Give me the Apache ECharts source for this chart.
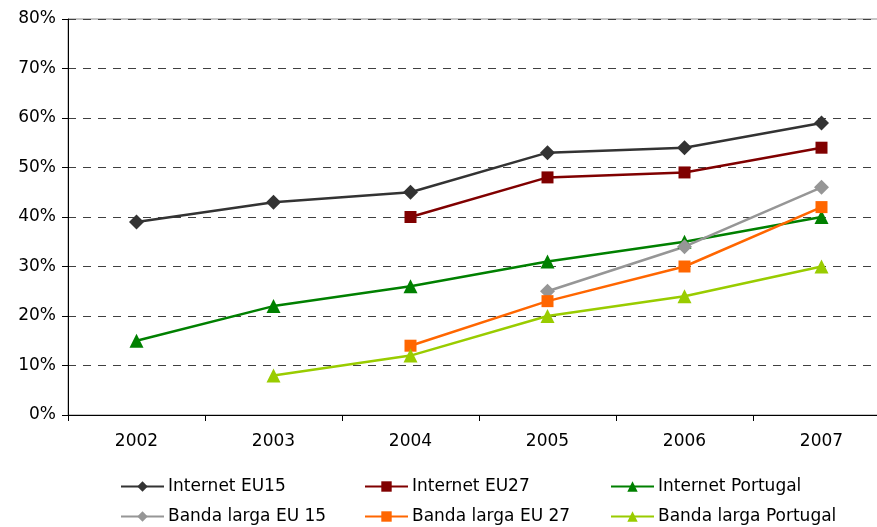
<!DOCTYPE html>
<html lang="pt">
<head>
    <meta charset="UTF-8">
    <title>Internet e banda larga</title>
</head>
<body style="margin:0;overflow:hidden">
<div id="main" style="height: 527px;width: 890px"></div>
</body>
<script src="https://cdn.jsdelivr.net/npm/echarts@6/dist/echarts.min.js"></script>
<script>
    var years = ['2002', '2003', '2004', '2005', '2006', '2007'];
    var internetEU15 = [39, 43, 45, 53, 54, 59];
    var internetEU27 = [null, null, 40, 48, 49, 54];
    var internetPortugal = [15, 22, 26, 31, 35, 40];
    var bandaEU15 = [null, null, null, 25, 34, 46];
    var bandaEU27 = [null, null, 14, 23, 30, 42];
    var bandaPortugal = [null, 8, 12, 20, 24, 30];

    var font = 'DejaVu Sans, Verdana, sans-serif';

    function line(name, data, color, symbol, size) {
        return {
            name: name,
            type: 'line',
            data: data,
            symbol: symbol,
            symbolSize: size,
            showAllSymbol: true,
            connectNulls: false,
            animation: false,
            itemStyle: {color: color},
            lineStyle: {color: color, width: 2.5}
        };
    }

    // legenda: um componente por item para fixar as colunas
    var legendPos = [
        ['Internet EU15', 120, 478], ['Internet EU27', 364, 478], ['Internet Portugal', 610, 478],
        ['Banda larga EU 15', 120, 508], ['Banda larga EU 27', 364, 508], ['Banda larga Portugal', 610, 508]
    ];
    var legends = legendPos.map(function (p) {
        return {
            data: [p[0]],
            left: p[1],
            top: p[2],
            itemWidth: 43,
            itemHeight: 13,
            itemGap: 0,
            padding: 0,
            textStyle: {fontFamily: font, fontSize: 17, color: '#000', padding: [0, 0, 0, -1]}
        };
    });

    var myChart = echarts.init(document.getElementById('main'));
    var option = {
        backgroundColor: '#fff',
        legend: legends,
        grid: {
            left: 68, right: 0, top: 19, bottom: 112,
            show: true, borderColor: '#8c8c8c', borderWidth: 1
        },
        xAxis: {
            type: 'category',
            data: years,
            boundaryGap: true,
            axisLine: {lineStyle: {color: '#000', width: 1}},
            axisTick: {show: true, length: 6, lineStyle: {color: '#000'}},
            axisLabel: {fontFamily: font, fontSize: 17, color: '#000', margin: 18}
        },
        yAxis: {
            type: 'value',
            min: 0, max: 80, interval: 10,
            axisLine: {show: true, lineStyle: {color: '#000', width: 1}},
            axisTick: {show: true, length: 6, lineStyle: {color: '#000'}},
            axisLabel: {
                fontFamily: font, fontSize: 17, color: '#000', margin: 12,
                formatter: '{value}%'
            },
            splitLine: {lineStyle: {color: '#404040', type: [8, 7], width: 1}}
        },
        series: [
            line('Internet EU15', internetEU15, '#333333', 'diamond', 15),
            line('Internet EU27', internetEU27, '#800000', 'rect', 12),
            line('Internet Portugal', internetPortugal, '#008000', 'triangle', 14),
            line('Banda larga EU 15', bandaEU15, '#969696', 'diamond', 15),
            line('Banda larga EU 27', bandaEU27, '#ff6600', 'rect', 12),
            line('Banda larga Portugal', bandaPortugal, '#99cc00', 'triangle', 14)
        ]
    };

    myChart.setOption(option);
</script>
</html>
